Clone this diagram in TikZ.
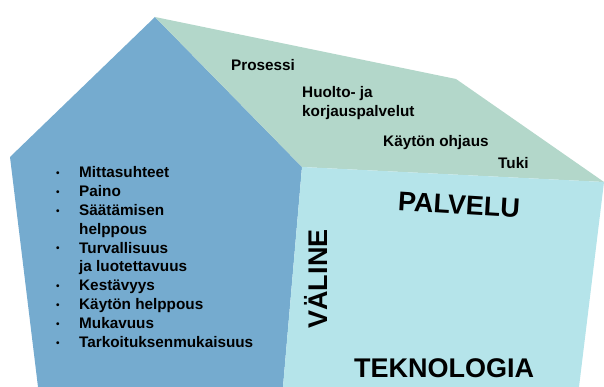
\documentclass[tikz,border=0pt]{standalone}
\usepackage{fontspec}
\setmainfont{Liberation Sans}
\definecolor{valineblue}{RGB}{117,171,207}
\definecolor{palvelugreen}{RGB}{179,215,202}
\definecolor{teknocyan}{RGB}{181,228,234}
\newcommand{\pallo}{\raisebox{1.2pt}{\normalsize\textbullet}}
\begin{document}
\begin{tikzpicture}[x=1pt,y=-1pt,
	txt/.style={anchor=base west,inner sep=0pt,font=\fontsize{15.3}{18.9}\selectfont\bfseries},
	big/.style={inner sep=0pt,font=\fontsize{27}{31}\selectfont\bfseries}]
	\useasboundingbox (0,0) rectangle (604,387);
	% the three faces
	\fill[valineblue]   (155,17) -- (10,157) -- (38,387) -- (283,387) -- (302,167) -- cycle;
	\fill[palvelugreen] (155,17) -- (456,79) -- (604,182) -- (302,167) -- cycle;
	\fill[teknocyan]    (302,167) -- (604,182) -- (579,387) -- (283,387) -- cycle;
	
	\path
	(231,71)   node[txt] (prosessi) {Prosessi}
	(302,98)   node[txt] (huolto)   {\begin{tabular}[t]{@{}l@{}}Huolto- ja\\korjauspalvelut\end{tabular}}
	(383,147)  node[txt] (ohjaus)   {Käytön ohjaus}
	(498,169)  node[txt] (tuki)     {Tuki}
	(56,177.5) node[txt] (lista)    {\begin{tabular}[t]{@{}p{23pt}@{}l@{}}
		\pallo & Mittasuhteet\\
		\pallo & Paino\\
		\pallo & Säätämisen\\
		       & helppous\\
		\pallo & Turvallisuus\\
		       & ja luotettavuus\\
		\pallo & Kestävyys\\
		\pallo & Käytön helppous\\
		\pallo & Mukavuus\\
		\pallo & Tarkoituksenmukaisuus
	\end{tabular}};
	
	\node[big,rotate=-3.5] (palvelu) at (459,205) {PALVELU};
	\node[big,rotate=90]   (valine)  at (316,279) {VÄLINE};
	\node[big]             (tekno)   at (444,368) {TEKNOLOGIA};
\end{tikzpicture}
\end{document}
